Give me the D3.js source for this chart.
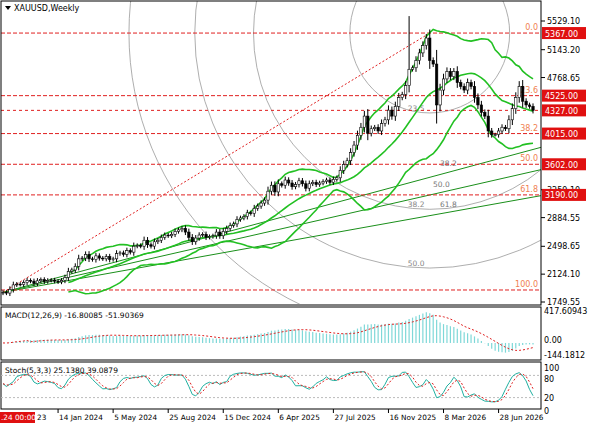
<!DOCTYPE html><html><head><meta charset="utf-8">
<script src="https://cdn.jsdelivr.net/npm/d3@7"></script>
<style>body{margin:0;background:#fff}text{font-family:"DejaVu Sans",sans-serif}</style></head><body>
<svg id="c" width="596" height="425"></svg>
<script>
const closes=[1880,1870,1920,1980,1990,1985,2010,2040,2030,2000,2035,2050,2025,2040,2045,
2030,2020,2040,2080,2160,2180,2230,2330,2340,2390,2330,2320,
2370,2340,2330,2360,2320,2330,2400,2410,2390,2440,2420,2500,
2510,2500,2580,2520,2500,2560,2580,2620,2650,2640,2660,2700,
2720,2740,2690,2620,2560,2610,2650,2660,2620,2630,2640,2690,
2640,2700,2740,2780,2800,2860,2880,2900,2950,2940,3010,3040,
3080,3120,3240,3320,3230,3340,3320,3390,3350,3300,3330,3380,
3340,3280,3340,3360,3330,3350,3370,3390,3360,3400,3420,3520,
3600,3650,3760,3860,3990,4100,4250,4020,4080,4100,4050,4150,
4200,4330,4250,4380,4500,4540,4660,4880,4900,5000,5100,5200,
5300,5000,4950,4400,4600,4750,4850,4780,
4850,4700,4650,4600,4700,4650,4500,4400,4300,4250,4050,4000,
4000,4050,4100,4080,4200,4350,4500,4650,4450,4400,4380,4327];
const priceTicks=[5529.10,5143.20,4768.65,3259.10,2884.55,2498.65,2124.10,1749.55];
const fibLevels=[{lv:"0.0",p:5367},{lv:"23.6",p:4525},{lv:"38.2",p:4015},{lv:"50.0",p:3602},{lv:"61.8",p:3190},{lv:"100.0",p:1911}];
const lastPrice=4327;
const dateTicks=[{i:16,t:"14 Jan 2024"},{i:32,t:"5 May 2024"},{i:48,t:"25 Aug 2024"},{i:64,t:"15 Dec 2024"},{i:80,t:"6 Apr 2025"},{i:96,t:"27 Jul 2025"},{i:112,t:"16 Nov 2025"},{i:128,t:"8 Mar 2026"},{i:144,t:"28 Jun 2026"}];
const fanEnds=[{lv:"38.2",p:3830},{lv:"50.0",p:3530},{lv:"61.8",p:3180}];
const arcLevels=[{lv:"23.5",r:0.17},{lv:"38.2",r:0.375},{lv:"50.0",r:0.5},{lv:"61.8",r:0.64}];

const svg=d3.select("#c");
const L=1,R=541;
const x=d3.scaleLinear().domain([0,154]).range([3,533]);
const y=d3.scaleLinear().domain([1749.55,5529.1]).range([302,21]);
const n=closes.length;
const opens=closes.map((c,i)=>i?closes[i-1]:c-10);
const highs=closes.map((c,i)=>Math.max(c,opens[i])+Math.abs(c-opens[i])*0.3+25);
const lows=closes.map((c,i)=>Math.min(c,opens[i])-Math.abs(c-opens[i])*0.3-25);
highs[118]=5595; lows[126]=4150;

const defs=svg.append("defs");
defs.append("clipPath").attr("id","mc").append("rect").attr("x",L).attr("y",1).attr("width",R-L).attr("height",303);
const g=svg.append("g").attr("clip-path","url(#mc)");

const cx=x(124),cy=y(5367),Rb=470;
arcLevels.forEach(a=>{g.append("circle").attr("cx",cx).attr("cy",cy).attr("r",a.r*Rb).attr("fill","none").attr("stroke","#999").attr("stroke-width",0.8);
 g.append("text").attr("x",cx-22).attr("y",cy+a.r*Rb-2).attr("font-size",7.5).attr("fill","#888").text(a.lv);});
fanEnds.forEach((f,k)=>{g.append("line").attr("x1",x(0)).attr("y1",y(1880)).attr("x2",R).attr("y2",y(f.p)).attr("stroke","#1a8f1a").attr("stroke-width",1);
 const xx=[455,448,455][k];const t=(xx-x(0))/(R-x(0));
 g.append("text").attr("x",xx-15).attr("y",y(1880)+(y(f.p)-y(1880))*t-4).attr("font-size",7.5).attr("fill","#777").text(f.lv);});
fibLevels.forEach(f=>{g.append("line").attr("x1",L).attr("x2",R).attr("y1",y(f.p)).attr("y2",y(f.p)).attr("stroke","#e02020").attr("stroke-dasharray","4,2");
 g.append("text").attr("x",R-3).attr("y",y(f.p)-3).attr("text-anchor","end").attr("font-size",8).attr("fill","#f08050").text(f.lv);});
g.append("line").attr("x1",L).attr("x2",R).attr("y1",y(lastPrice)).attr("y2",y(lastPrice)).attr("stroke","#e02020").attr("stroke-dasharray","3,3");
g.append("line").attr("x1",x(0)).attr("y1",y(1880)).attr("x2",x(124)).attr("y2",y(5367)).attr("stroke","#e02020").attr("stroke-dasharray","2,2");
const P=20,bb=[];
for(let i=P-1;i<n;i++){const s=closes.slice(i-P+1,i+1),m=d3.mean(s),sd=d3.deviation(s)*Math.sqrt((P-1)/P);bb.push({i,m,u:m+2*sd,l:m-2*sd});}
["m","u","l"].forEach(k=>g.append("path").datum(bb).attr("fill","none").attr("stroke","#22c022").attr("stroke-width",1.6).attr("d",d3.line().x(d=>x(d.i)).y(d=>y(d[k]))));
closes.forEach((c,i)=>{const o=opens[i];
 g.append("line").attr("x1",x(i)).attr("x2",x(i)).attr("y1",y(highs[i])).attr("y2",y(lows[i])).attr("stroke","#000");
 g.append("rect").attr("x",x(i)-1.2).attr("width",2.4).attr("y",y(Math.max(o,c))).attr("height",Math.max(0.8,Math.abs(y(o)-y(c)))).attr("fill",c>=o?"#fff":"#000").attr("stroke","#000").attr("stroke-width",0.6);});
svg.append("rect").attr("x",L).attr("y",1).attr("width",R-L).attr("height",304).attr("fill","none").attr("stroke","#000");
svg.append("path").attr("d","M5,6 L11,6 L8,10Z").attr("fill","#000");
svg.append("text").attr("x",14).attr("y",11).attr("font-size",8).text("XAUUSD,Weekly");
priceTicks.forEach(p=>{svg.append("line").attr("x1",R).attr("x2",R+4).attr("y1",y(p)).attr("y2",y(p)).attr("stroke","#000");
 svg.append("text").attr("x",R+6).attr("y",y(p)+3).attr("font-size",8).text(p.toFixed(2));});
fibLevels.slice(0,5).concat([{p:lastPrice}]).forEach(f=>{svg.append("rect").attr("x",R+1).attr("y",y(f.p)-6).attr("width",44).attr("height",12).attr("fill","#e01010");
 svg.append("text").attr("x",R+4).attr("y",y(f.p)+3.5).attr("font-size",8).attr("fill","#fff").text(f.p.toFixed(2));});
function ema(a,p){const k=2/(p+1),r=[a[0]];for(let i=1;i<a.length;i++)r.push(a[i]*k+r[i-1]*(1-k));return r;}
const e12=ema(closes,12),e26=ema(closes,26),macd=closes.map((c,i)=>e12[i]-e26[i]);
const sig=macd.map((v,i)=>i<8?v:d3.mean(macd.slice(i-8,i+1)));
const ym=d3.scaleLinear().domain([-144.18,417.61]).range([354,311]);
svg.append("rect").attr("x",L).attr("y",307).attr("width",R-L).attr("height",53).attr("fill","none").attr("stroke","#000");
macd.forEach((v,i)=>svg.append("line").attr("x1",x(i)).attr("x2",x(i)).attr("y1",ym(0)).attr("y2",ym(v)).attr("stroke","#7fd8d8").attr("stroke-width",1.2));
svg.append("path").datum(sig).attr("fill","none").attr("stroke","#e02020").attr("stroke-dasharray","2,2").attr("d",d3.line().x((d,i)=>x(i)).y(d=>ym(d)));
svg.append("text").attr("x",5).attr("y",318).attr("font-size",7.5).text("MACD(12,26,9) -16.80085 -51.90369");
[["417.60943",ym(417.61)+3],["0.00",ym(0)],["-144.1812",ym(-144.18)+4]].forEach(t=>svg.append("text").attr("x",R+3).attr("y",t[1]).attr("font-size",8).text(t[0]));
const K=closes.map((c,i)=>{const lo=d3.min(lows.slice(Math.max(0,i-4),i+1)),hi=d3.max(highs.slice(Math.max(0,i-4),i+1));return 100*(c-lo)/(hi-lo);});
const Ks=K.map((v,i)=>d3.mean(K.slice(Math.max(0,i-2),i+1)));
const Ds=Ks.map((v,i)=>d3.mean(Ks.slice(Math.max(0,i-2),i+1)));
const ys=d3.scaleLinear().domain([0,100]).range([405,368]);
svg.append("rect").attr("x",L).attr("y",362).attr("width",R-L).attr("height",47).attr("fill","none").attr("stroke","#000");
[20,80].forEach(v=>svg.append("line").attr("x1",L).attr("x2",R).attr("y1",ys(v)).attr("y2",ys(v)).attr("stroke","#bbb").attr("stroke-dasharray","2,2"));
svg.append("path").datum(Ks).attr("fill","none").attr("stroke","#20b0a0").attr("d",d3.line().x((d,i)=>x(i)).y(d=>ys(d)));
svg.append("path").datum(Ds).attr("fill","none").attr("stroke","#e02020").attr("stroke-dasharray","2,2").attr("d",d3.line().x((d,i)=>x(i)).y(d=>ys(d)));
svg.append("text").attr("x",5).attr("y",373).attr("font-size",7.5).text("Stoch(5,3,3) 25.1380 39.0879");
[[100,0],[80,4],[20,0],[0,6]].forEach(v=>svg.append("text").attr("x",R+3).attr("y",ys(v[0])+3+v[1]).attr("font-size",8).text(v[0]));
dateTicks.forEach(d=>{svg.append("line").attr("x1",x(d.i)).attr("x2",x(d.i)).attr("y1",409).attr("y2",413).attr("stroke","#000");
 svg.append("text").attr("x",x(d.i)+1).attr("y",420).attr("font-size",7.3).text(d.t);});
svg.append("text").attr("x",37).attr("y",420).attr("font-size",7.3).text("23");
svg.append("rect").attr("x",0).attr("y",412).attr("width",35).attr("height",11).attr("fill","#e01010");
svg.append("text").attr("x",1).attr("y",420).attr("font-size",7.3).attr("fill","#fff").text(".24 00:00");
</script></body></html>
